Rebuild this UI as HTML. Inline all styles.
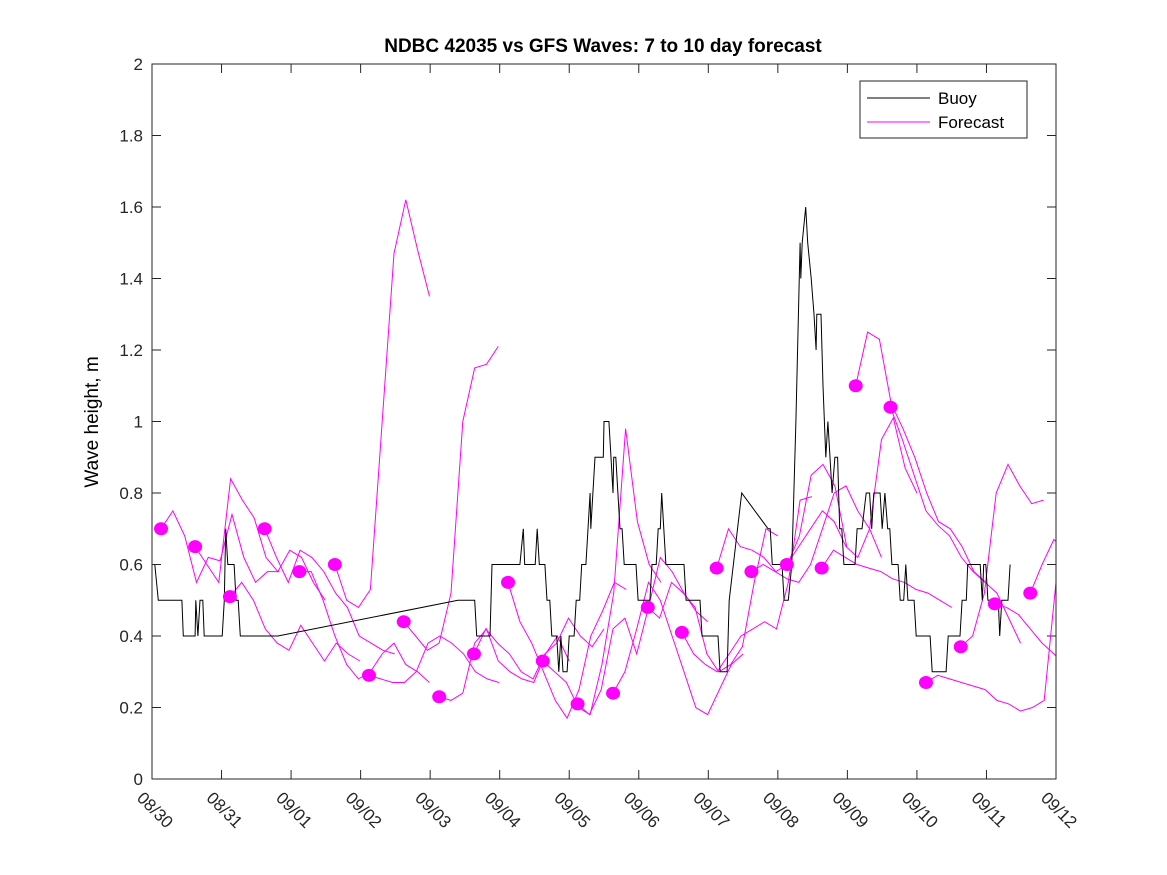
<!DOCTYPE html>
<html><head><meta charset="utf-8"><style>
body{margin:0;background:#fff;}
svg{display:block;font-family:"Liberation Sans","DejaVu Sans",sans-serif;}
</style></head><body>
<svg id="chart" width="1167" height="875">
<defs><clipPath id="plotclip"><rect x="152" y="64" width="904" height="715"/></clipPath></defs>
<rect x="0" y="0" width="1167" height="875" fill="#fff"/>
<text x="603" y="52" text-anchor="middle" font-size="19" font-weight="bold">NDBC 42035 vs GFS Waves: 7 to 10 day forecast</text>
<text transform="translate(98,422) rotate(-90)" text-anchor="middle" font-size="19">Wave height, m</text>
<g id="grid"></g>
<g id="series" clip-path="url(#plotclip)"></g>
<rect x="152" y="64" width="904" height="715" fill="none" stroke="#262626" stroke-width="1"/>
<g>
<rect x="860" y="81" width="167" height="57" fill="#fff" stroke="#262626"/>
<line x1="867" y1="98" x2="930" y2="98" stroke="#000"/>
<text x="938" y="104" font-size="17">Buoy</text>
<line x1="867" y1="122" x2="930" y2="122" stroke="#f0f"/>
<text x="938" y="128" font-size="17">Forecast</text>
</g>
</svg>
<script>
const xTickLabels=["08/30","08/31","09/01","09/02","09/03","09/04","09/05","09/06","09/07","09/08","09/09","09/10","09/11","09/12"];
const yTickValues=[0,0.2,0.4,0.6,0.8,1,1.2,1.4,1.6,1.8,2];
// buoy: day offset from 08/30 and wave height
const buoyDays=[.04,.09,.43,.45,.62,.63,.66,.69,.73,.75,1.01,1.04,1.06,1.09,1.18,1.21,1.24,1.27,1.81,4.40,4.64,4.67,4.86,4.89,5.29,5.34,5.36,5.51,5.54,5.57,5.65,5.68,5.72,5.75,5.82,5.85,5.88,5.91,5.97,6.00,6.07,6.10,6.15,6.18,6.24,6.27,6.30,6.31,6.34,6.37,6.49,6.50,6.57,6.60,6.63,6.64,6.67,6.70,6.73,6.76,6.79,6.96,6.99,7.16,7.19,7.25,7.28,7.31,7.33,7.36,7.39,7.65,7.68,7.88,7.91,8.14,8.17,8.27,8.30,8.48,8.86,8.89,8.92,9.06,9.09,9.15,9.20,9.26,9.32,9.33,9.35,9.40,9.43,9.48,9.52,9.55,9.56,9.62,9.65,9.69,9.72,9.75,9.78,9.82,9.86,9.89,9.92,9.95,10.01,10.11,10.14,10.21,10.27,10.32,10.35,10.38,10.47,10.50,10.54,10.58,10.61,10.64,10.73,10.76,10.81,10.84,10.87,10.96,10.99,11.19,11.22,11.42,11.45,11.62,11.65,11.71,11.73,11.91,11.94,11.96,11.99,12.02,12.17,12.19,12.22,12.31,12.34];
const buoyValues=[.6,.5,.5,.4,.4,.5,.4,.5,.5,.4,.4,.5,.7,.6,.6,.5,.5,.4,.4,.5,.5,.4,.4,.6,.6,.7,.6,.6,.7,.6,.6,.5,.5,.4,.4,.3,.4,.3,.3,.4,.4,.5,.5,.6,.6,.7,.8,.7,.8,.9,.9,1.0,1.0,.9,.8,.9,.9,.8,.7,.7,.6,.6,.5,.5,.6,.6,.7,.7,.8,.7,.6,.6,.5,.5,.4,.4,.3,.3,.5,.8,.7,.7,.6,.6,.5,.5,.6,1.0,1.5,1.4,1.5,1.6,1.5,1.4,1.3,1.2,1.3,1.3,1.1,.9,1.0,.9,.8,.9,.9,.7,.7,.6,.6,.6,.7,.7,.8,.8,.7,.8,.8,.7,.8,.7,.7,.6,.6,.5,.5,.6,.5,.5,.4,.4,.3,.3,.4,.4,.5,.5,.6,.6,.5,.6,.6,.5,.5,.4,.5,.5,.6];
// forecasts: start day (dot), values at fixed time steps
const forecastStarts=[0.13,0.62,1.12,1.62,2.12,2.63,3.12,3.62,4.13,4.63,5.12,5.62,6.12,6.63,7.13,7.62,8.12,8.62,9.13,9.63,10.12,10.62,11.13,11.63,12.12,12.63];
const forecastValues=[
[0.70,0.75,0.68,0.55,0.62,0.61,0.74,0.62,0.55,0.58,0.58],
[0.65,0.60,0.55,0.84,0.78,0.73,0.62,0.58,0.64,0.62,0.55,0.50],
[0.51,0.55,0.50,0.42,0.38,0.36,0.43,0.38,0.33,0.38,0.35,0.33],
[0.70,0.62,0.55,0.64,0.62,0.58,0.52,0.48,0.40,0.38,0.36,0.35],
[0.58,0.58,0.50,0.40,0.32,0.28,0.30,0.35,0.38,0.32,0.30,0.27],
[0.60,0.50,0.48,0.53,1.00,1.47,1.62,1.48,1.35],
[0.29,0.28,0.27,0.27,0.30,0.38,0.40,0.38,0.35,0.30,0.28,0.27],
[0.44,0.40,0.36,0.38,0.52,1.00,1.15,1.16,1.21],
[0.23,0.22,0.24,0.38,0.42,0.33,0.30,0.28,0.27,0.35,0.40,0.33],
[0.35,0.42,0.38,0.35,0.30,0.28,0.35,0.38,0.45,0.40,0.37,0.42],
[0.55,0.44,0.38,0.30,0.22,0.17,0.25,0.40,0.47,0.55,0.53],
[0.33,0.30,0.27,0.20,0.18,0.32,0.52,0.98,0.72,0.60,0.55],
[0.21,0.18,0.25,0.42,0.45,0.35,0.48,0.62,0.58,0.52,0.47,0.44],
[0.24,0.30,0.42,0.55,0.50,0.40,0.30,0.20,0.18,0.25,0.32,0.35],
[0.48,0.45,0.55,0.52,0.48,0.35,0.30,0.32,0.37,0.55,0.70,0.68],
[0.41,0.35,0.32,0.30,0.35,0.40,0.42,0.44,0.42,0.55,0.78,0.79],
[0.59,0.70,0.65,0.64,0.62,0.58,0.60,0.68,0.85,0.88,0.82,0.65],
[0.58,0.60,0.58,0.56,0.55,0.60,0.70,0.80,0.82,0.75,0.70,0.62],
[0.60,0.65,0.70,0.75,0.72,0.65,0.62,0.70,0.95,1.01,0.87,0.80],
[0.59,0.64,0.62,0.60,0.59,0.58,0.56,0.55,0.53,0.52,0.50,0.48],
[1.10,1.25,1.23,1.05,0.98,0.90,0.80,0.72,0.70,0.65,0.58,0.55],
[1.04,0.95,0.85,0.75,0.71,0.68,0.62,0.58,0.55,0.52,0.45,0.38],
[0.27,0.29,0.28,0.27,0.26,0.25,0.22,0.21,0.19,0.20,0.22,0.55],
[0.37,0.40,0.52,0.80,0.88,0.82,0.77,0.78],
[0.49,0.48,0.46,0.42,0.38,0.35,0.32,0.30,0.28,0.27,0.28],
[0.52,0.60,0.67,0.64,0.55]
];
const STEP=0.17;
const NS="http://www.w3.org/2000/svg";
const X0=152,X1=1056,Y0=779,Y1=64,DAYS=13,YMAX=2;
const xs=d=>X0+(X1-X0)*d/DAYS;
const ys=v=>Y0-(Y0-Y1)*v/YMAX;
function mk(t,a){const e=document.createElementNS(NS,t);for(const k in a)e.setAttribute(k,a[k]);return e;}
const grid=document.getElementById('grid'),ser=document.getElementById('series');
yTickValues.forEach(v=>{
  const y=ys(v);
  const t1=mk('line',{x1:X0,y1:y,x2:X0+9,y2:y,stroke:'#262626'});
  
  
  grid.appendChild(t1);
  const t2=mk('line',{x1:X1-9,y1:y,x2:X1,y2:y,stroke:'#262626'});
  
  
  grid.appendChild(t2);
  const tx=mk('text',{x:X0-9,y:y+6,'text-anchor':'end','font-size':'17',fill:'#262626'});
  
  
  tx.textContent=String(v);grid.appendChild(tx);
});
xTickLabels.forEach((lab,i)=>{
  const x=xs(i);
  const t1=mk('line',{x1:x,y1:Y0,x2:x,y2:Y0-9,stroke:'#262626'});
  
  
  grid.appendChild(t1);
  const t2=mk('line',{x1:x,y1:Y1,x2:x,y2:Y1+9,stroke:'#262626'});
  
  
  grid.appendChild(t2);
  const tx=mk('text',{x:0,y:0,'font-size':'17',fill:'#262626',transform:`translate(${x-16},${Y0+20}) rotate(45)`});
  
  
  tx.textContent=lab;grid.appendChild(tx);
});
forecastValues.forEach((vals,i)=>{
  const pts=vals.map((v,j)=>xs(forecastStarts[i]+j*STEP).toFixed(1)+','+ys(v).toFixed(1)).join(' ');
  const pl=mk('polyline',{points:pts,fill:'none',stroke:'#f0f','stroke-width':'1'});
  
  
  ser.appendChild(pl);
});
const bp=buoyDays.map((d,i)=>xs(d).toFixed(1)+','+ys(buoyValues[i]).toFixed(1)).join(' ');
const bl=mk('polyline',{points:bp,fill:'none',stroke:'#000','stroke-width':'1'});


ser.appendChild(bl);
forecastValues.forEach((vals,i)=>{
  const c=mk('ellipse',{cx:xs(forecastStarts[i]),cy:ys(vals[0]),rx:7,ry:6.5,fill:'#f0f'});
  
  
  ser.appendChild(c);
});
</script>
</body></html>
